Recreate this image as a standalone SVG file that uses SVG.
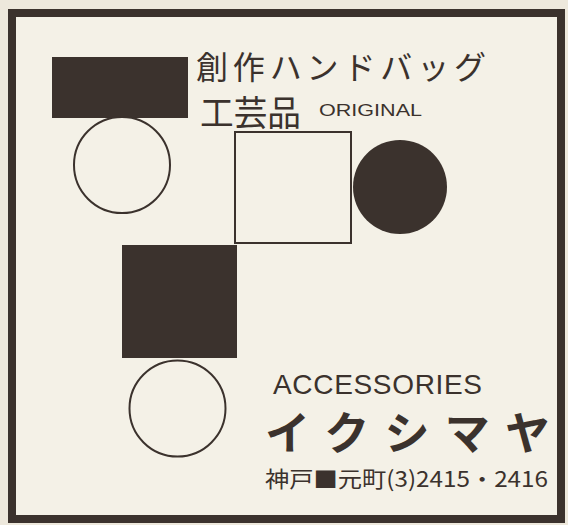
<svg xmlns="http://www.w3.org/2000/svg" width="568" height="525" viewBox="0 0 568 525">
<style>
.ink{fill:#3b322d}
.line{fill:none;stroke:#3b322d;stroke-width:2}
.jp{font-family:"Noto Sans CJK JP","Noto Sans",sans-serif;fill:#3b322d}
.lat{font-family:"Liberation Sans",Arial,sans-serif;fill:#3b322d}
</style>
<rect x="0" y="0" width="568" height="525" fill="#ede8dc"/>
<rect id="frame" x="12" y="13" width="549" height="506" fill="#f4f1e7" stroke="#3b322d" stroke-width="8"/>
<g id="shapes">
  <rect id="black-rect-top" class="ink" x="52" y="57" width="136" height="61"/>
  <circle id="circle-top" class="line" cx="122" cy="165" r="48"/>
  <rect id="square-hollow" class="line" x="235" y="132" width="116" height="111"/>
  <circle id="circle-black" class="ink" cx="400" cy="187" r="47"/>
  <rect id="square-black" class="ink" x="122" y="245" width="115" height="113"/>
  <circle id="circle-bottom" class="line" cx="177.5" cy="408.5" r="48"/>
</g>
<g id="texts">
  <text class="jp" x="196" y="79" font-size="32" textLength="290" lengthAdjust="spacing">創作ハンドバッグ</text>
  <text class="jp" x="200" y="126" font-size="35" textLength="101" lengthAdjust="spacingAndGlyphs">工芸品</text>
  <text class="lat" x="319" y="116" font-size="16" textLength="103" lengthAdjust="spacingAndGlyphs">ORIGINAL</text>
  <text class="lat" x="273" y="394" font-size="28" textLength="209" lengthAdjust="spacing">ACCESSORIES</text>
  <text class="jp" x="265" y="450" font-size="45" font-weight="bold" textLength="285" lengthAdjust="spacing">イクシマヤ</text>
  <text class="jp" x="265" y="487" font-size="22" textLength="283" lengthAdjust="spacingAndGlyphs">神戸■元町(3)2415・2416</text>
</g>
</svg>
